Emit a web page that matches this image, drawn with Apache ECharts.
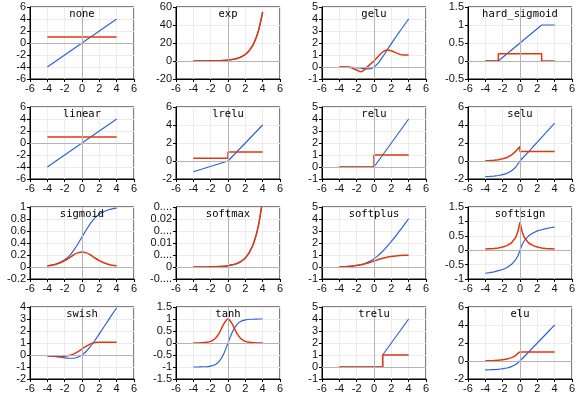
<!DOCTYPE html>
<html>
<head>
<meta charset="utf-8">
<script src="https://cdn.jsdelivr.net/npm/echarts@6/dist/echarts.min.js"></script>
<style>
  html, body { margin: 0; padding: 0; background: #fff; }
  #chart { width: 582px; height: 398px; }
</style>
</head>
<body>
<div id="chart"></div>
<script>
// x samples shared by the smooth curves
var xs = [-4, -3.5, -3, -2.5, -2, -1.5, -1, -0.5, 0, 0.5, 1, 1.5, 2, 2.5, 3, 3.5, 4];
var xEnds = [-4, 4];

var noneF = [-4, 4];
var noneD = [1, 1];

var expF = [0.02, 0.03, 0.05, 0.08, 0.14, 0.22, 0.37, 0.61, 1, 1.65, 2.72, 4.48, 7.39, 12.2, 20.1, 33.1, 54.6];
var expD = [0.02, 0.03, 0.05, 0.08, 0.14, 0.22, 0.37, 0.61, 1, 1.65, 2.72, 4.48, 7.39, 12.2, 20.1, 33.1, 54.6];

var geluF = [0, 0, -0.01, -0.02, -0.05, -0.1, -0.15, -0.15, 0, 0.35, 0.84, 1.4, 1.95, 2.48, 3, 3.5, 4];
var geluD = [0, 0, 0, -0.1, -0.25, -0.4, -0.15, 0.2, 0.5, 0.9, 1.25, 1.42, 1.35, 1.2, 1.05, 1, 1];

var hsX = [-4, -2.5, 2.5, 4];
var hsF = [0, 0, 1, 1];
var hsDX = [-4, -2.5, -2.5, 2.5, 2.5, 4];
var hsD = [0, 0, 0.2, 0.2, 0, 0];

var linF = [-4, 4];
var linD = [1, 1];

var lrX = [-4, 0, 4];
var lrF = [-1.2, 0, 4];
var lrDX = [-4, 0, 0, 4];
var lrD = [0.3, 0.3, 1, 1];

var reX = [-4, 0, 4];
var reF = [0, 0, 4];
var reDX = [-4, 0, 0, 4];
var reD = [0, 0, 1, 1];

var seluF = [-1.73, -1.71, -1.67, -1.61, -1.52, -1.37, -1.11, -0.69, 0, 0.53, 1.05, 1.58, 2.1, 2.63, 3.15, 3.68, 4.2];
var seluDX = [-4, -3.5, -3, -2.5, -2, -1.5, -1, -0.5, 0, 0, 4];
var seluD = [0.03, 0.05, 0.09, 0.14, 0.24, 0.39, 0.65, 1.07, 1.6, 1.05, 1.05];

var sigF = [0.02, 0.03, 0.05, 0.08, 0.12, 0.18, 0.27, 0.38, 0.5, 0.62, 0.73, 0.82, 0.88, 0.92, 0.95, 0.97, 0.98];
var sigD = [0.02, 0.03, 0.045, 0.07, 0.105, 0.15, 0.2, 0.235, 0.25, 0.235, 0.2, 0.15, 0.105, 0.07, 0.045, 0.03, 0.02];

var smF = [0, 0, 0, 0, 0.0001, 0.0001, 0.0002, 0.0003, 0.0005, 0.0009, 0.0014, 0.0023, 0.0038, 0.0063, 0.0103, 0.017, 0.028];
var smD = [0, 0, 0, 0, 0.0001, 0.0001, 0.0002, 0.0003, 0.0005, 0.0009, 0.0014, 0.0023, 0.0038, 0.0063, 0.0103, 0.017, 0.028];

var spF = [0.02, 0.03, 0.05, 0.08, 0.13, 0.2, 0.31, 0.47, 0.69, 0.97, 1.31, 1.7, 2.13, 2.58, 3.05, 3.53, 4.02];
var spD = [0.02, 0.03, 0.05, 0.08, 0.12, 0.18, 0.27, 0.38, 0.5, 0.62, 0.73, 0.82, 0.88, 0.92, 0.95, 0.97, 0.98];

var ssX = [-4, -3.5, -3, -2.5, -2, -1.5, -1, -0.5, -0.25, 0, 0.25, 0.5, 1, 1.5, 2, 2.5, 3, 3.5, 4];
var ssF = [-0.8, -0.78, -0.75, -0.71, -0.67, -0.6, -0.5, -0.33, -0.2, 0, 0.2, 0.33, 0.5, 0.6, 0.67, 0.71, 0.75, 0.78, 0.8];
var ssD = [0.04, 0.05, 0.06, 0.08, 0.11, 0.16, 0.25, 0.44, 0.64, 0.97, 0.64, 0.44, 0.25, 0.16, 0.11, 0.08, 0.06, 0.05, 0.04];

var swF = [-0.07, -0.1, -0.14, -0.19, -0.24, -0.27, -0.27, -0.19, 0, 0.31, 0.73, 1.23, 1.76, 2.31, 2.86, 3.4, 3.93];
var swD = [-0.07, -0.08, -0.1, -0.11, -0.1, -0.05, 0.07, 0.26, 0.5, 0.74, 0.93, 1.05, 1.07, 1.07, 1.07, 1.07, 1.07];

var thF = [-1, -1, -0.99, -0.99, -0.96, -0.91, -0.76, -0.46, 0, 0.46, 0.76, 0.91, 0.96, 0.99, 0.99, 1, 1];
var thD = [0, 0, 0.01, 0.03, 0.07, 0.18, 0.42, 0.79, 1, 0.79, 0.42, 0.18, 0.07, 0.03, 0.01, 0, 0];

var trX = [-4, 1, 1, 4];
var trF = [0, 0, 1, 4];
var trD = [0, 0, 1, 1];

var eluF = [-0.98, -0.97, -0.95, -0.92, -0.86, -0.78, -0.63, -0.39, 0, 0.5, 1, 1.5, 2, 2.5, 3, 3.5, 4];
var eluD = [0.02, 0.03, 0.05, 0.08, 0.14, 0.22, 0.37, 0.61, 1, 1, 1, 1, 1, 1, 1, 1, 1];

// name, x for f, f, x for derivative, derivative, y min, y max, y step, smooth
var panels = [
    ['none', xEnds, noneF, xEnds, noneD, -6, 6, 2, false],
    ['exp', xs, expF, xs, expD, -20, 60, 20, true],
    ['gelu', xs, geluF, xs, geluD, -1, 5, 1, true],
    ['hard_sigmoid', hsX, hsF, hsDX, hsD, -0.5, 1.5, 0.5, false],
    ['linear', xEnds, linF, xEnds, linD, -6, 6, 2, false],
    ['lrelu', lrX, lrF, lrDX, lrD, -2, 6, 2, false],
    ['relu', reX, reF, reDX, reD, -1, 5, 1, false],
    ['selu', xs, seluF, seluDX, seluD, -2, 6, 2, false],
    ['sigmoid', xs, sigF, xs, sigD, -0.2, 1, 0.2, true],
    ['softmax', xs, smF, xs, smD, -0.005, 0.025, 0.005, true],
    ['softplus', xs, spF, xs, spD, -1, 5, 1, true],
    ['softsign', ssX, ssF, ssX, ssD, -1, 1.5, 0.5, false],
    ['swish', xs, swF, xs, swD, -2, 4, 1, true],
    ['tanh', xs, thF, xs, thD, -1.5, 1.5, 0.5, true],
    ['trelu', trX, trF, trX, trD, -1, 5, 1, false],
    ['elu', xs, eluF, xs, eluD, -2, 6, 2, true]
];

var blue = '#2f62d6';
var red = '#e2380f';
var labelFont = "'Liberation Sans Narrow', 'Liberation Sans', sans-serif";

function pairs(x, y) {
    return y.map(function (v, i) { return [x[i], v]; });
}

function shortLabel(v) {
    var s = String(+v.toFixed(6));
    if (s.length > 4) return s.slice(0, s.indexOf('.')) + '....';
    return s;
}

var grids = [], xAxes = [], yAxes = [], titles = [], series = [];

panels.forEach(function (p, i) {
    var col = i % 4, row = Math.floor(i / 4);
    var left = 30 + col * 146, top = 7 + row * 100;
    grids.push({
        left: left, top: top, width: 104, height: 72,
        show: true, borderColor: '#000', borderWidth: 1,
        outerBoundsMode: 'none'
    });
    titles.push({
        text: p[0], left: left + 52, top: top + 2, textAlign: 'center', padding: 0,
        textStyle: { fontFamily: "'DejaVu Sans Mono', monospace", fontSize: 10.5, fontWeight: 'normal', color: '#000' }
    });
    xAxes.push({
        type: 'value', gridIndex: i, min: -6, max: 6, interval: 2,
        axisLine: { onZero: false, lineStyle: { color: '#000' } },
        axisTick: { show: true, length: 3, lineStyle: { color: '#000' } },
        axisLabel: { color: '#111', fontSize: 11, fontFamily: labelFont, margin: 4 },
        splitLine: { show: true, lineStyle: { color: '#ececec' } }
    });
    yAxes.push({
        type: 'value', gridIndex: i, min: p[5], max: p[6], interval: p[7],
        axisLine: { show: true, onZero: false, lineStyle: { color: '#000' } },
        axisTick: { show: true, length: 3, lineStyle: { color: '#000' } },
        axisLabel: {
            color: '#111', fontSize: 11, fontFamily: labelFont, margin: 4,
            formatter: p[0] === 'softmax' ? shortLabel : null
        },
        splitLine: { show: true, lineStyle: { color: '#ececec' } }
    });
    // zero lines
    series.push({
        type: 'line', xAxisIndex: i, yAxisIndex: i, data: [], z: 1, silent: true,
        markLine: {
            symbol: 'none', silent: true, label: { show: false }, animation: false,
            lineStyle: { color: '#b4b4b4', type: 'solid', width: 1 },
            data: [{ xAxis: 0 }, { yAxis: 0 }]
        }
    });
    series.push({
        type: 'line', xAxisIndex: i, yAxisIndex: i, data: pairs(p[1], p[2]),
        showSymbol: false, smooth: p[8] ? 0.25 : false, z: 3,
        lineStyle: { color: blue, width: 1.2 }
    });
    series.push({
        type: 'line', xAxisIndex: i, yAxisIndex: i, data: pairs(p[3], p[4]),
        showSymbol: false, smooth: p[8] ? 0.25 : false, z: 4,
        lineStyle: { color: red, width: 1.5 }
    });
});

var chart = echarts.init(document.getElementById('chart'));
chart.setOption({
    animation: false,
    title: titles,
    grid: grids,
    xAxis: xAxes,
    yAxis: yAxes,
    series: series
});
</script>
</body>
</html>
